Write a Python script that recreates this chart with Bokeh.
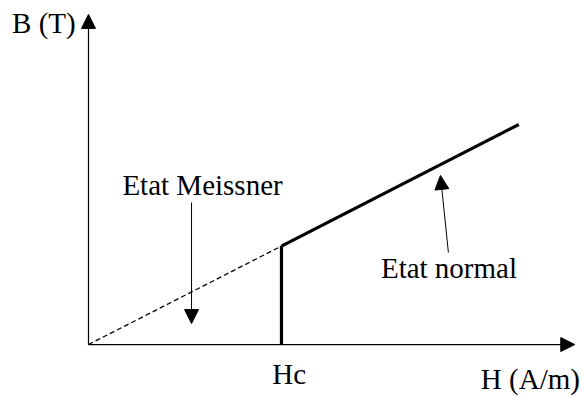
from bokeh.plotting import figure
from bokeh.models import Range1d, Arrow, NormalHead
from bokeh.core.properties import value
from bokeh.embed import file_html
from bokeh.resources import INLINE

# B(H) for a type-I superconductor, in units where Hc = 1
meissner_H = [0.0, 1.0]
meissner_B = [0.0, 0.51]
transition_H = [1.0, 1.0]
transition_B = [0.0, 0.51]
normal_H = [1.0, 2.23]
normal_B = [0.51, 1.14]

axis_H_max = 2.52
axis_B_max = 1.71

FONT = value("Liberation Serif")

p = figure(width=582, height=396, output_backend="svg", toolbar_location=None,
           x_range=Range1d(-0.456, 2.560), y_range=Range1d(-0.269, 1.782),
           min_border=0, outline_line_color=None)
p.xaxis.visible = False
p.yaxis.visible = False
p.xgrid.visible = False
p.ygrid.visible = False

# axes with arrow heads
for xe, ye in [(axis_H_max, 0.0), (0.0, axis_B_max)]:
    p.add_layout(Arrow(end=NormalHead(size=14, fill_color="black", line_color="black", line_width=1),
                       x_start=0.0, y_start=0.0, x_end=xe, y_end=ye,
                       line_color="black", line_width=1.2))

# reversible curve below Hc (dashed) and the normal state above Hc
p.line(meissner_H, meissner_B, line_color="black", line_width=1.3, line_dash="5 3")
p.line(transition_H, transition_B, line_color="black", line_width=3.2)
p.line(normal_H, normal_B, line_color="black", line_width=3.2)

# pointers for the state labels
p.add_layout(Arrow(end=NormalHead(size=14, fill_color="black", line_color="black", line_width=1),
                   x_start=0.534, y_start=0.736, x_end=0.534, y_end=0.109,
                   line_color="black", line_width=1))
p.add_layout(Arrow(end=NormalHead(size=14, fill_color="black", line_color="black", line_width=1),
                   x_start=1.865, y_start=0.477, x_end=1.824, y_end=0.876,
                   line_color="black", line_width=1))

labels = ["B (T)", "H (A/m)", "Hc", "Etat Meissner", "Etat normal"]
label_x = [-0.231, 2.29, 1.04, 0.591, 1.868]
label_y = [1.663, -0.178, -0.155, 0.824, 0.399]
p.text(label_x, label_y, text=labels, text_font=FONT, text_font_size="29px",
       text_align="center", text_baseline="middle", text_color="black")

open("out.html", "w").write(file_html(p, INLINE))
